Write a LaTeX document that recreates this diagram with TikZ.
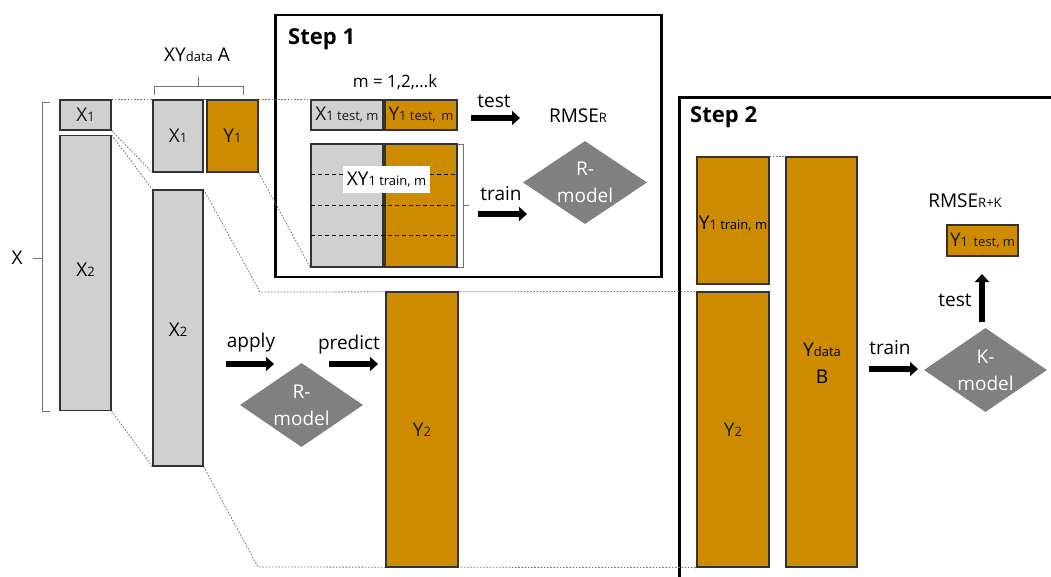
\documentclass[tikz,border=0pt]{standalone}
\usepackage{fontspec}
\setmainfont{Open Sans}
\usetikzlibrary{shapes.geometric,arrows.meta}
\definecolor{boxgray}{HTML}{D0D0D0}
\definecolor{boxorange}{HTML}{CD8B00}
\definecolor{boxline}{HTML}{333333}
\definecolor{diamgray}{HTML}{808080}
\definecolor{dotgray}{HTML}{777777}
\newcommand{\smtx}[1]{{\fontsize{13}{14}\selectfont #1}}
\tikzset{
  base/.style={font=\fontsize{19}{23}\selectfont, text=black},
  databox/.style={base, draw=boxline, line width=1.2pt, inner sep=0pt, text=black!90},
  graybox/.style={databox, fill=boxgray},
  orangebox/.style={databox, fill=boxorange},
  diam/.style={diamond, fill=diamgray, inner sep=0pt},
  diamtext/.style={base, text=white, align=center, font=\fontsize{19}{27}\selectfont},
  lbl/.style={base},
  stepframe/.style={draw=black, line width=2.6pt},
  steptitle/.style={font=\fontsize{22}{26}\selectfont\bfseries, anchor=west, inner sep=0pt},
  bigarrow/.style={line width=5.5pt, -{Triangle[length=8pt,width=14pt]}},
  dotline/.style={draw=dotgray, line width=0.8pt, dash pattern=on 1.6pt off 1.6pt},
  trainsplit/.style={draw=black, line width=1pt, dash pattern=on 4pt off 3pt},
  bracketline/.style={draw=black!55, line width=0.9pt},
}
\begin{document}
\begin{tikzpicture}[x=1pt,y=-1pt]
\useasboundingbox (0,0) rectangle (1051,577);
\clip (0,0) rectangle (1051,577);
\fill[white] (0,0) rectangle (1051,577);

% frames
\node[stepframe, minimum width=386pt, minimum height=262pt, inner sep=0pt] (step1) at (468.5,146) {};
\node[stepframe, minimum width=400pt, minimum height=500pt, inner sep=0pt, anchor=north west] (step2) at (678,96) {};
\node[steptitle] (s1t) at (288,39) {Step 1};
\node[steptitle] (s2t) at (690,117) {Step 2};

% coordinates for dotted bends
\coordinate (b1) at (260,292);
\coordinate (b2) at (258,567);

% data boxes (positions)
\path
 node[graybox, minimum width=51pt, minimum height=30pt] (x1a) at (85.5,115) {}
 node[graybox, minimum width=51pt, minimum height=275pt] (x2a) at (85.5,273) {}
 node[graybox, minimum width=50pt, minimum height=72pt] (x1b) at (178,136) {}
 node[orangebox, minimum width=51pt, minimum height=72pt] (y1b) at (232.5,136) {}
 node[graybox, minimum width=50pt, minimum height=276pt] (x2b) at (178,328) {}
 node[graybox, minimum width=72pt, minimum height=30pt] (x1t) at (347,115) {}
 node[orangebox, minimum width=72pt, minimum height=30pt] (y1t) at (421,115) {}
 node[graybox, minimum width=72pt, minimum height=123pt] (trg) at (347,205.5) {}
 node[orangebox, minimum width=72pt, minimum height=123pt] (tro) at (421,205.5) {}
 node[orangebox, minimum width=72pt, minimum height=275pt] (y2m) at (422,429.5) {}
 node[orangebox, minimum width=72pt, minimum height=127pt] (y1tr) at (733,220.5) {}
 node[orangebox, minimum width=72pt, minimum height=275pt] (y2s) at (733,429.5) {}
 node[orangebox, minimum width=71pt, minimum height=410pt] (ydb) at (821.5,362) {}
 node[orangebox, minimum width=71pt, minimum height=31pt] (y1tk) at (982.5,240.5) {};

% dotted projection lines
\draw[dotline] (x1a.north east) -- (x1t.north west);
\draw[dotline] (x1a.south east) -- (x1b.south west);
\draw[dotline] (x2a.north east) -- (x2b.north west);
\draw[dotline] (x2a.south east) -- (x2b.south west);
\draw[dotline] (y1b.south east) -- (trg.south west);
\draw[dotline] (x2b.north east) -- (b1) -- (y2s.north west);
\draw[dotline] (x2b.south east) -- (b2) -- (y2s.south west);
\draw[dotline] (y1tr.north east) -- (ydb.north west);

% redraw boxes on top of dotted lines, with their texts
\path
 node[graybox, minimum width=51pt, minimum height=30pt] at (x1a) {X\smtx{1}}
 node[graybox, minimum width=51pt, minimum height=275pt] at (x2a) {}
 node[graybox, minimum width=50pt, minimum height=72pt] at (x1b) {X\smtx{1}}
 node[orangebox, minimum width=51pt, minimum height=72pt] at (y1b) {Y\smtx{1}}
 node[graybox, minimum width=50pt, minimum height=276pt] at (x2b) {}
 node[graybox, minimum width=72pt, minimum height=30pt] at (x1t) {X\smtx{1 test, m}}
 node[orangebox, minimum width=72pt, minimum height=30pt] at (y1t) {Y\smtx{1 test,\, m}}
 node[graybox, minimum width=72pt, minimum height=123pt] at (trg) {}
 node[orangebox, minimum width=72pt, minimum height=123pt] at (tro) {}
 node[orangebox, minimum width=72pt, minimum height=275pt] at (y2m) {Y\smtx{2}}
 node[orangebox, minimum width=72pt, minimum height=127pt] at (y1tr) {}
 node[orangebox, minimum width=72pt, minimum height=275pt] at (y2s) {Y\smtx{2}}
 node[orangebox, minimum width=71pt, minimum height=410pt] at (ydb) {}
 node[orangebox, minimum width=71pt, minimum height=31pt] at (y1tk) {Y\smtx{1 \,test, m}};

% labels inside tall boxes
\node[lbl] (x2alab) at (85.5,270) {X\smtx{2}};
\node[lbl] (x2blab) at (178,330) {X\smtx{2}};
\node[lbl] (y1trlab) at (733,224) {Y\smtx{1 train, m}};
\node[lbl, align=center, font=\fontsize{19}{27}\selectfont] (ydblab) at (822,363) {Y\smtx{data}\\B};

% train split dashed lines
\foreach \yy/\nm in {175/d1,206/d2,236/d3}{
  \coordinate (\nm l) at (311,\yy);
  \coordinate (\nm r) at (457,\yy);
  \draw[trainsplit] (\nm l) -- (\nm r);
}
\node[base, fill=white, inner sep=0pt, minimum width=87pt, minimum height=27pt] (xytr) at (386.5,179.5) {XY\smtx{1 train, m}};

% right bracket of training block
\coordinate (brt) at (463,144);
\coordinate (brb) at (463,267);
\coordinate (brm) at (463,205);
\coordinate (brmt) at (469,205);
\draw[bracketline] (458,144) -- (brt) -- (brb) -- (458,267);
\draw[bracketline] (brm) -- (brmt);

% X brace (left)
\coordinate (xbt) at (42,102);
\coordinate (xbb) at (42,411);
\coordinate (xbm) at (42,258);
\coordinate (xbmt) at (33,258);
\draw[bracketline] (50,102) -- (xbt) -- (xbb) -- (50,411);
\draw[bracketline] (xbm) -- (xbmt);
\node[lbl] (xlab) at (17,258) {X};

% XYdata A brace
\coordinate (abl) at (154,95);
\coordinate (abr) at (243,95);
\coordinate (abm) at (198,86);
\coordinate (abmt) at (198,77);
\draw[bracketline] (abl) -- (154,86) -- (243,86) -- (abr);
\draw[bracketline] (abm) -- (abmt);
\node[lbl] (xyalab) at (197,55) {XY\smtx{data} A};

% texts
\node[lbl, font=\fontsize{17}{20}\selectfont] (mlab) at (395,82) {m = 1,2,\dots k};
\node[lbl] (rmser) at (578,116) {RMSE\smtx{R}};
\node[lbl] (rmserk) at (965,201) {RMSE\smtx{R+K}};

% diamonds
\node[diam, minimum width=124pt, minimum height=83pt] (rm1) at (585,182.5) {};
\node[diamtext] at (rm1) {R-\\model};
\node[diam, minimum width=123pt, minimum height=84pt] (rm2) at (301.5,405) {};
\node[diamtext] at (rm2) {R-\\model};
\node[diam, minimum width=123pt, minimum height=84pt] (km) at (985.5,370) {};
\node[diamtext] at (km) {K-\\model};

% arrows
\coordinate (t1s) at (471,118); \coordinate (t1e) at (520,118);
\coordinate (r1s) at (478,214); \coordinate (r1e) at (527,214);
\coordinate (aps) at (226,364); \coordinate (ape) at (274,364);
\coordinate (prs) at (329,364); \coordinate (pre) at (378,364);
\coordinate (r2s) at (869,369); \coordinate (r2e) at (918,369);
\coordinate (t2s) at (982,322); \coordinate (t2e) at (982,274);
\draw[bigarrow] (t1s) -- (t1e);
\draw[bigarrow] (r1s) -- (r1e);
\draw[bigarrow] (aps) -- (ape);
\draw[bigarrow] (prs) -- (pre);
\draw[bigarrow] (r2s) -- (r2e);
\draw[bigarrow] (t2s) -- (t2e);
\node[lbl] (t1l) at (494,101) {test};
\node[lbl] (r1l) at (501,194) {train};
\node[lbl] (apl) at (251,343) {apply};
\node[lbl] (prl) at (349,345) {predict};
\node[lbl] (r2l) at (890,348) {train};
\node[lbl] (t2l) at (955,300) {test};
\end{tikzpicture}
\end{document}
